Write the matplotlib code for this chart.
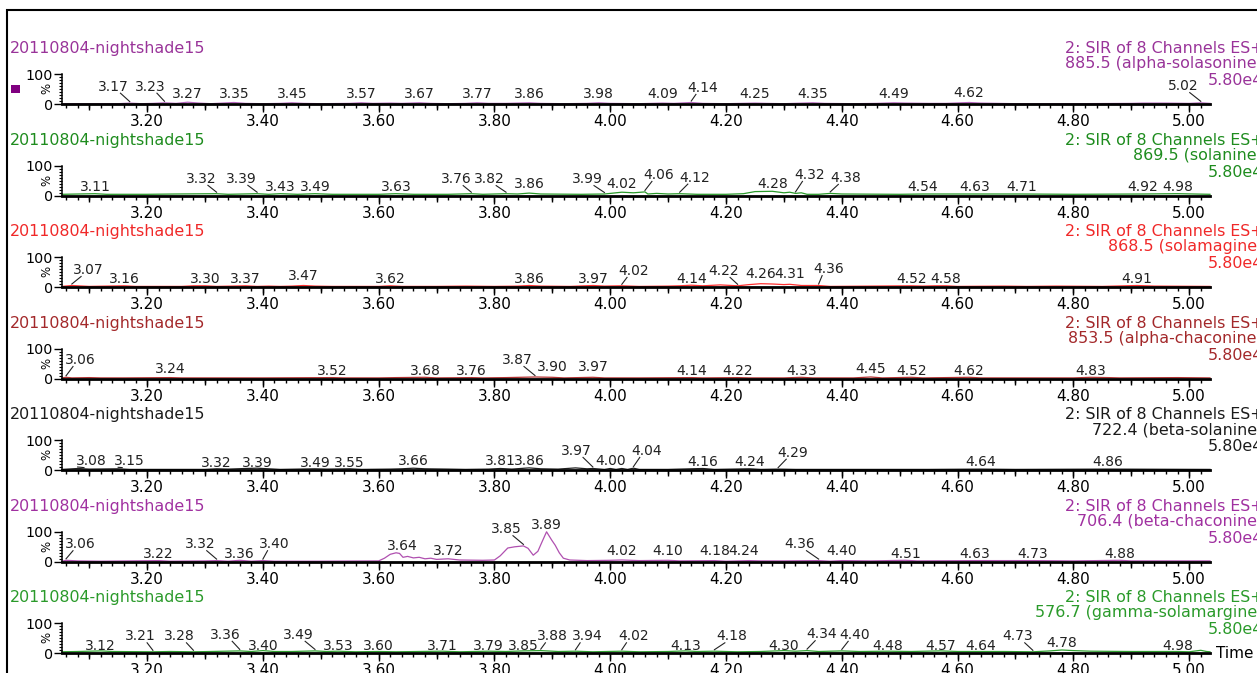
import numpy as np
import matplotlib
matplotlib.use('Agg')
import matplotlib.pyplot as plt
from matplotlib.ticker import MultipleLocator, FormatStrFormatter
from matplotlib.patches import Rectangle

plt.rcParams['font.family'] = ['DejaVu Sans']

# ---- data ----
sample = "20110804-nightshade15"
scan = "2: SIR of 8 Channels ES+"
scale = "5.80e4"
channels = ["885.5 (alpha-solasonine)", "869.5 (solanine)", "868.5 (solamagine)",
            "853.5 (alpha-chaconine)", "722.4 (beta-solanine)", "706.4 (beta-chaconine)",
            "576.7 (gamma-solamargine)"]

# traces: (time, % of 5.80e4)
trace_1 = [(3.053, 2), (3.15, 2), (3.17, 4), (3.19, 2), (3.21, 3), (3.23, 5), (3.25, 3), (3.27, 7),
           (3.29, 4), (3.31, 2), (3.35, 6), (3.37, 3), (3.40, 2), (3.43, 3), (3.45, 5), (3.47, 3),
           (3.50, 2), (3.55, 3), (3.57, 5), (3.59, 3), (3.62, 4), (3.64, 3), (3.67, 5), (3.69, 3),
           (3.72, 2), (3.75, 3), (3.77, 5), (3.79, 3), (3.82, 3), (3.86, 5), (3.88, 3), (3.92, 2),
           (3.96, 3), (3.98, 5), (4.00, 3), (4.05, 2), (4.09, 4), (4.11, 3), (4.14, 6), (4.16, 3),
           (4.20, 2), (4.25, 4), (4.27, 3), (4.30, 2), (4.35, 5), (4.37, 3), (4.42, 2), (4.46, 3),
           (4.49, 5), (4.51, 4), (4.55, 3), (4.58, 3), (4.62, 6), (4.64, 4), (4.67, 3), (4.70, 2),
           (4.80, 2), (4.90, 3), (4.92, 4), (4.96, 4), (5.00, 3), (5.02, 5), (5.036, 3)]
trace_2 = [(3.053, 5), (3.11, 7), (3.13, 5), (3.20, 5), (3.25, 6), (3.32, 7), (3.34, 5), (3.39, 7),
           (3.41, 5), (3.43, 7), (3.46, 5), (3.49, 7), (3.52, 5), (3.60, 5), (3.63, 7), (3.66, 5),
           (3.72, 5), (3.76, 7), (3.78, 5), (3.82, 7), (3.84, 6), (3.86, 9), (3.88, 6), (3.95, 5),
           (3.99, 6), (4.00, 8), (4.02, 12), (4.04, 10), (4.06, 13), (4.065, 6), (4.08, 8), (4.10, 6),
           (4.12, 7), (4.15, 5), (4.20, 5), (4.23, 7), (4.25, 14), (4.28, 15), (4.30, 10), (4.31, 12),
           (4.32, 8), (4.33, 10), (4.34, 5), (4.36, 5), (4.38, 8), (4.40, 6), (4.50, 5), (4.54, 6),
           (4.63, 6), (4.71, 6), (4.80, 5), (4.92, 6), (4.98, 7), (5.036, 5)]
trace_3 = [(3.053, 3), (3.07, 6), (3.09, 4), (3.10, 3), (3.16, 5), (3.18, 3), (3.26, 3), (3.28, 5),
           (3.30, 5), (3.32, 3), (3.37, 5), (3.39, 3), (3.41, 4), (3.43, 3), (3.45, 4), (3.47, 6),
           (3.49, 4), (3.52, 3), (3.60, 3), (3.62, 5), (3.64, 3), (3.70, 3), (3.75, 4), (3.80, 3),
           (3.84, 4), (3.86, 6), (3.88, 4), (3.93, 3), (3.97, 6), (3.99, 4), (4.02, 5), (4.05, 3),
           (4.10, 4), (4.12, 5), (4.14, 7), (4.16, 5), (4.19, 8), (4.22, 5), (4.24, 9), (4.26, 12),
           (4.28, 11), (4.30, 9), (4.31, 10), (4.33, 6), (4.36, 6), (4.38, 3), (4.45, 4), (4.52, 5),
           (4.54, 4), (4.56, 5), (4.58, 5), (4.60, 3), (4.68, 4), (4.72, 3), (4.77, 4), (4.85, 3),
           (4.89, 5), (4.91, 6), (4.94, 4), (5.036, 3)]
trace_4 = [(3.053, 3), (3.06, 5), (3.07, 3), (3.10, 4), (3.12, 3), (3.16, 3), (3.24, 4), (3.26, 3),
           (3.40, 3), (3.52, 4), (3.54, 3), (3.60, 3), (3.63, 4), (3.68, 5), (3.70, 3), (3.76, 4),
           (3.78, 3), (3.82, 4), (3.87, 6), (3.90, 5), (3.92, 3), (3.97, 5), (3.99, 3), (4.05, 3),
           (4.14, 4), (4.16, 3), (4.22, 4), (4.24, 3), (4.30, 3), (4.33, 5), (4.35, 3), (4.42, 3),
           (4.45, 6), (4.47, 3), (4.52, 5), (4.54, 3), (4.58, 4), (4.62, 5), (4.64, 3), (4.80, 3),
           (4.83, 5), (4.86, 4), (4.88, 3), (4.98, 4), (5.036, 3)]
trace_5 = [(3.053, 3), (3.08, 6), (3.10, 4), (3.15, 5), (3.17, 3), (3.22, 3), (3.30, 3), (3.32, 5),
           (3.34, 4), (3.37, 6), (3.39, 7), (3.41, 5), (3.43, 3), (3.46, 4), (3.49, 5), (3.51, 4),
           (3.55, 5), (3.57, 3), (3.62, 4), (3.64, 5), (3.66, 7), (3.68, 5), (3.72, 4), (3.75, 3),
           (3.79, 4), (3.81, 6), (3.83, 4), (3.86, 8), (3.88, 5), (3.91, 4), (3.94, 8), (3.96, 5),
           (3.97, 6), (3.99, 3), (4.00, 6), (4.01, 3), (4.02, 6), (4.03, 3), (4.04, 7), (4.05, 3),
           (4.10, 3), (4.16, 6), (4.18, 3), (4.24, 5), (4.26, 3), (4.29, 4), (4.32, 3), (4.40, 3),
           (4.55, 3), (4.64, 4), (4.70, 3), (4.86, 4), (5.036, 3)]
trace_6 = [(3.053, 2), (3.06, 5), (3.08, 3), (3.12, 2), (3.22, 4), (3.24, 2), (3.30, 3), (3.32, 4),
           (3.34, 2), (3.36, 5), (3.38, 2), (3.40, 4), (3.42, 2), (3.50, 2), (3.60, 3), (3.61, 12),
           (3.62, 25), (3.63, 30), (3.636, 28), (3.642, 15), (3.65, 18), (3.66, 13), (3.67, 15),
           (3.68, 10), (3.69, 12), (3.70, 8), (3.72, 10), (3.74, 6), (3.78, 5), (3.80, 6), (3.81, 20),
           (3.823, 46), (3.835, 50), (3.85, 53), (3.858, 45), (3.867, 22), (3.875, 35), (3.883, 70),
           (3.89, 100), (3.899, 72), (3.905, 55), (3.912, 30), (3.919, 12), (3.93, 6), (3.96, 4),
           (4.00, 5), (4.02, 6), (4.05, 4), (4.10, 5), (4.12, 3), (4.18, 4), (4.20, 2), (4.24, 4),
           (4.26, 3), (4.30, 3), (4.36, 4), (4.38, 2), (4.40, 4), (4.45, 3), (4.51, 5), (4.53, 3),
           (4.63, 4), (4.73, 4), (4.80, 3), (4.88, 5), (4.90, 3), (5.036, 3)]
trace_7 = [(3.053, 5), (3.08, 6), (3.12, 8), (3.14, 6), (3.21, 5), (3.24, 6), (3.28, 5), (3.31, 6),
           (3.36, 8), (3.38, 6), (3.40, 9), (3.42, 6), (3.45, 6), (3.49, 8), (3.51, 6), (3.53, 7),
           (3.56, 5), (3.60, 6), (3.63, 5), (3.67, 6), (3.71, 7), (3.74, 5), (3.79, 7), (3.82, 6),
           (3.85, 8), (3.88, 9), (3.91, 6), (3.94, 7), (3.97, 5), (4.02, 7), (4.05, 5), (4.10, 6),
           (4.13, 8), (4.15, 6), (4.18, 7), (4.22, 5), (4.26, 6), (4.30, 9), (4.32, 7), (4.34, 9),
           (4.36, 6), (4.40, 8), (4.43, 6), (4.48, 7), (4.52, 6), (4.57, 8), (4.60, 6), (4.64, 6),
           (4.68, 6), (4.73, 5), (4.76, 8), (4.78, 11), (4.80, 9), (4.83, 7), (4.90, 6), (4.98, 6),
           (5.00, 5), (5.02, 10), (5.03, 6), (5.036, 5)]

# peak labels
peaks_1 = ["3.17", "3.23", "3.27", "3.35", "3.45", "3.57", "3.67", "3.77", "3.86", "3.98", "4.09",
           "4.14", "4.25", "4.35", "4.49", "4.62", "5.02"]
peaks_2 = ["3.11", "3.32", "3.39", "3.43", "3.49", "3.63", "3.76", "3.82", "3.86", "3.99", "4.02",
           "4.06", "4.12", "4.28", "4.32", "4.38", "4.54", "4.63", "4.71", "4.92", "4.98"]
peaks_3 = ["3.07", "3.16", "3.30", "3.37", "3.47", "3.62", "3.86", "3.97", "4.02", "4.14", "4.22",
           "4.26", "4.31", "4.36", "4.52", "4.58", "4.91"]
peaks_4 = ["3.06", "3.24", "3.52", "3.68", "3.76", "3.87", "3.90", "3.97", "4.14", "4.22", "4.33",
           "4.45", "4.52", "4.62", "4.83"]
peaks_5 = ["3.08", "3.15", "3.32", "3.39", "3.49", "3.55", "3.66", "3.81", "3.86", "3.97", "4.00",
           "4.04", "4.16", "4.24", "4.29", "4.64", "4.86"]
peaks_6 = ["3.06", "3.22", "3.32", "3.36", "3.40", "3.64", "3.72", "3.85", "3.89", "4.02", "4.10",
           "4.18", "4.24", "4.36", "4.40", "4.51", "4.63", "4.73", "4.88"]
peaks_7 = ["3.12", "3.21", "3.28", "3.36", "3.40", "3.49", "3.53", "3.60", "3.71", "3.79", "3.85",
           "3.88", "3.94", "4.02", "4.13", "4.18", "4.30", "4.34", "4.40", "4.48", "4.57", "4.64",
           "4.73", "4.78", "4.98"]

# label layout: shift of the label from its peak (min) and height of the text baseline (%)
shift_1 = [-0.028, -0.025, 0, 0, 0, 0, 0, 0, 0, 0, 0, 0.020, 0, 0, 0, 0, -0.031]
lift_1 = [45, 45, 21, 21, 21, 21, 21, 21, 21, 21, 21, 41, 21, 21, 21, 25, 47]
shift_2 = [0, -0.027, -0.028, 0, 0, 0, -0.026, -0.029, 0, -0.030, 0, 0.024, 0.026, 0, 0.024, 0.026,
           0, 0, 0, 0, 0]
lift_2 = [16, 43, 43, 16, 16, 16, 42, 42, 26, 42, 26, 56, 47, 26, 56, 46, 16, 16, 16, 16, 16]
shift_3 = [0.028, 0, 0, 0, 0, 0, 0, 0, 0.021, 0, -0.025, 0, 0, 0.018, 0, 0, 0]
lift_3 = [44, 13, 13, 13, 26, 13, 15, 15, 41, 15, 41, 31, 31, 47, 13, 13, 13]
shift_4 = [0.024, 0, 0, 0, 0, -0.031, 0, 0, 0, 0, 0, 0, 0, 0, 0]
lift_4 = [49, 18, 14, 14, 14, 49, 26, 26, 14, 14, 14, 18, 14, 14, 14]
shift_5 = [0.023, 0.019, 0, 0, 0, 0, 0, 0, 0, -0.029, 0, 0.023, 0, 0, 0.026, 0, 0]
lift_5 = [17, 17, 12, 12, 12, 12, 18, 18, 18, 51, 18, 51, 15, 15, 45, 15, 13]
shift_6 = [0.024, 0, -0.029, 0, 0.020, 0, 0, -0.030, 0, 0, 0, 0, -0.009, -0.033, 0, 0, 0, 0, 0]
lift_6 = [45, 14, 45, 14, 45, 40, 23, 95, 108, 23, 23, 23, 23, 45, 23, 14, 11, 11, 14]
shift_7 = [0, -0.022, -0.024, -0.025, 0, -0.029, 0, 0, 0, 0, 0, 0.020, 0.020, 0.020, 0, 0.030, 0,
           0.026, 0.023, 0, 0, 0, -0.026, 0, 0]
lift_7 = [12, 43, 43, 48, 12, 48, 12, 12, 12, 12, 12, 43, 43, 43, 12, 43, 12, 50, 48, 12, 12, 10,
          43, 20, 12]

title_colors = ["#993399", "#1E8C1E", "#F02828", "#A3282A", "#1A1A1A", "#A030A0", "#2A9A2A"]
trace_colors = ["#B464BC", "#2A9A2A", "#FF3030", "#B03030", "#202020", "#B050B0", "#30A030"]

traces = [trace_1, trace_2, trace_3, trace_4, trace_5, trace_6, trace_7]
peaks = [peaks_1, peaks_2, peaks_3, peaks_4, peaks_5, peaks_6, peaks_7]
shifts = [shift_1, shift_2, shift_3, shift_4, shift_5, shift_6, shift_7]
lifts = [lift_1, lift_2, lift_3, lift_4, lift_5, lift_6, lift_7]

W, H = 1257, 673
X0, X1 = 62, 1210
BASE0, STEP, AXH = 104.3, 91.5, 30
INK = "#222222"


def fx(px):
    return px / W


def fy(py):
    return 1 - py / H


def main():
    fig = plt.figure(figsize=(W / 100, H / 100), dpi=100)
    fig.patch.set_facecolor("white")

    # outer frame, only its top/left edges are inside the picture
    fig.add_artist(Rectangle((fx(7), -0.2), 1.5, fy(10) + 0.2, transform=fig.transFigure,
                             fill=False, lw=1.5, ec="black"))

    for k in range(7):
        base = BASE0 + STEP * k
        ax = fig.add_axes([fx(X0), fy(base), (X1 - X0) / W, AXH / H])
        t = np.array([p[0] for p in traces[k]])
        v = np.array([p[1] for p in traces[k]])
        ax.plot(t, v, color=trace_colors[k], lw=0.9, zorder=2, clip_on=False)
        ax.set_xlim(3.053, 5.036)
        ax.set_ylim(0, 100)

        for s, dx, yb in zip(peaks[k], shifts[k], lifts[k]):
            rt = float(s)
            lx = rt + dx
            ax.text(lx, yb, s, ha="center", va="baseline", fontsize=10, color=INK, clip_on=False)
            if abs(dx) > 0.012:
                sx = lx + 0.012 * np.sign(rt - lx)
                ax.plot([sx, rt], [yb - 8, np.interp(rt, t, v) + 5], color=INK, lw=0.8,
                        clip_on=False, zorder=3)

        for side in ("top", "right"):
            ax.spines[side].set_visible(False)
        ax.spines["bottom"].set_linewidth(2.0)
        ax.spines["left"].set_linewidth(1.1)
        ax.patch.set_alpha(0)

        ax.xaxis.set_major_locator(MultipleLocator(0.2))
        ax.xaxis.set_major_formatter(FormatStrFormatter("%.2f"))
        ax.xaxis.set_minor_locator(MultipleLocator(0.02))
        ax.tick_params(axis="x", which="major", direction="out", length=5.5, width=1,
                       pad=1.5, labelsize=11, colors="black")
        ax.tick_params(axis="x", which="minor", direction="out", length=2.6, width=1)

        sec = ax.secondary_xaxis("bottom")
        sec.xaxis.set_major_locator(MultipleLocator(0.1))
        sec.xaxis.set_minor_locator(MultipleLocator(1))
        sec.tick_params(axis="x", which="major", direction="out", length=4, width=1,
                        labelbottom=False)
        sec.spines["bottom"].set_visible(False)

        ax.set_yticks([0, 100])
        ax.set_yticklabels(["0", "100"])
        ax.yaxis.set_minor_locator(MultipleLocator(10))
        ax.tick_params(axis="y", which="major", direction="out", length=6, width=1,
                       pad=0.5, labelsize=10.3)
        ax.tick_params(axis="y", which="minor", direction="out", length=2.5, width=0.8)

        fig.text(fx(46.7), fy(base - 15.5), "%", rotation=90, ha="center", va="center",
                 fontsize=8.5)

        col = title_colors[k]
        fig.text(fx(10), fy(base - 51), sample, ha="left", va="baseline", fontsize=11.4,
                 color=col)
        fig.text(fx(1263), fy(base - 51), scan, ha="right", va="baseline", fontsize=11.4,
                 color=col)
        fig.text(fx(1263), fy(base - 36), channels[k], ha="right", va="baseline",
                 fontsize=11.4, color=col)
        fig.text(fx(1263), fy(base - 19), scale, ha="right", va="baseline", fontsize=11.4,
                 color=col)

        if k == 0:
            fig.add_artist(Rectangle((fx(11), fy(93)), 9 / W, 8 / H, transform=fig.transFigure,
                                     fc="#800080", ec="none"))
        if k == 6:
            fig.text(fx(1216), fy(base + 5), "Time", ha="left", va="baseline", fontsize=11,
                     color="black")

    fig.savefig("out.png", dpi=100)
    return 0


if __name__ == "__main__":
    import sys
    sys.exit(main())
